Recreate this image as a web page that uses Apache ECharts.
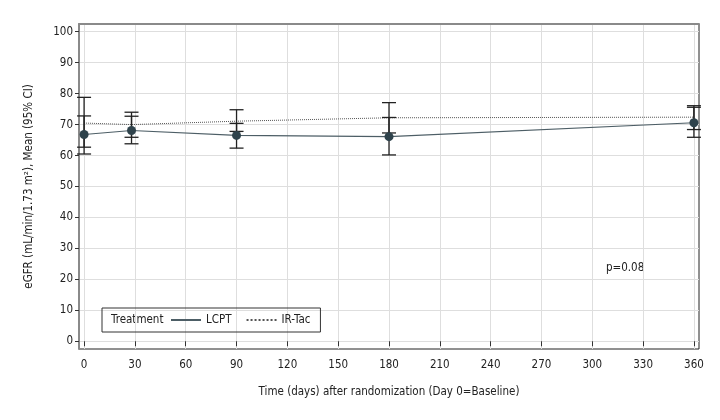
<!DOCTYPE html>
<html>
<head>
<meta charset="utf-8">
<script src="https://cdn.jsdelivr.net/npm/echarts@6/dist/echarts.min.js"></script>
<style>html,body{margin:0;padding:0;background:#fff}#c{width:720px;height:420px}</style>
</head>
<body>
<div id="c"></div>
<script>
var days = [0, 28, 90, 180, 360];
var lcptMean = [66.8, 68.1, 66.5, 66.1, 70.6];
var lcptLow = [60.5, 63.8, 62.4, 60.2, 65.9];
var lcptHigh = [72.8, 72.7, 70.4, 72.3, 75.6];
var irMean = [70.5, 70.0, 71.1, 72.2, 72.4];
var irLow = [62.7, 65.9, 67.8, 67.3, 68.4];
var irHigh = [78.8, 74.0, 74.8, 77.1, 76.1];
var xTicks = [0, 30, 60, 90, 120, 150, 180, 210, 240, 270, 300, 330, 360];
var yTicks = [0, 10, 20, 30, 40, 50, 60, 70, 80, 90, 100];
var FONT = '"Liberation Sans Narrow","DejaVu Sans Condensed",sans-serif';
var FS = 11.5;

var chart = echarts.init(document.getElementById('c'), null, {renderer: 'canvas'});

function pairs(xs, ys) { return xs.map(function (x, i) { return [x, ys[i]]; }); }
function errData(lo, hi) { return days.map(function (d, i) { return [d, lo[i], hi[i]]; }); }

function renderErr(params, api) {
  var x = api.value(0);
  var lo = api.coord([x, api.value(1)]);
  var hi = api.coord([x, api.value(2)]);
  var w = 7;
  var st = {stroke: '#222', lineWidth: 1.3};
  return {
    type: 'group',
    children: [
      {type: 'line', shape: {x1: lo[0], y1: lo[1], x2: hi[0], y2: hi[1]}, style: st},
      {type: 'line', shape: {x1: lo[0] - w, y1: lo[1], x2: lo[0] + w, y2: lo[1]}, style: st},
      {type: 'line', shape: {x1: hi[0] - w, y1: hi[1], x2: hi[0] + w, y2: hi[1]}, style: st}
    ]
  };
}

var option = {
  animation: false,
  textStyle: {fontFamily: FONT},
  grid: {left: 79, top: 24, right: 21, bottom: 71, show: true, borderColor: '#222', borderWidth: 1, backgroundColor: 'transparent'},
  xAxis: [{
    type: 'value', min: -3, max: 363,
    axisLine: {show: false},
    axisTick: {show: true, customValues: xTicks, length: 5, lineStyle: {color: '#333'}},
    axisLabel: {customValues: xTicks, color: '#222', fontSize: FS, fontFamily: FONT, margin: 10},
    splitLine: {show: true, lineStyle: {color: '#dedede', width: 1}},
    name: 'Time (days) after randomization (Day 0=Baseline)',
    nameLocation: 'middle', nameGap: 37,
    nameTextStyle: {color: '#222', fontSize: FS, fontFamily: FONT}
  }, {
    type: 'value', min: -3, max: 363, position: 'top',
    axisLine: {show: true, onZero: false, lineStyle: {color: '#8a8a8a', width: 2}},
    axisTick: {show: false}, axisLabel: {show: false}, splitLine: {show: false}
  }],
  yAxis: {
    type: 'value', min: -2.5, max: 102.5,
    axisLine: {show: true, onZero: false, lineStyle: {color: '#8a8a8a', width: 2}},
    axisTick: {show: true, customValues: yTicks, length: 4, lineStyle: {color: '#333'}},
    axisLabel: {customValues: yTicks, color: '#222', fontSize: FS, fontFamily: FONT, margin: 6},
    splitLine: {show: true, lineStyle: {color: '#dedede', width: 1}},
    name: 'eGFR (mL/min/1.73 m\u00b2), Mean (95% CI)',
    nameLocation: 'middle', nameGap: 44,
    nameTextStyle: {color: '#222', fontSize: FS, fontFamily: FONT}
  },
  legend: {
    left: 102, top: 308,
    padding: [6, 10, 6, 68],
    borderColor: '#333', borderWidth: 1,
    itemWidth: 30, itemHeight: 10, itemGap: 14,
    itemStyle: {color: 'rgba(0,0,0,0)', borderWidth: 0, opacity: 0},
    textStyle: {color: '#222', fontSize: FS, fontFamily: FONT},
    data: ['LCPT', 'IR-Tac']
  },
  graphic: [
    {type: 'text', left: 111, top: 314, style: {text: 'Treatment', font: FS + 'px ' + FONT, fill: '#222'}},
    {type: 'text', left: 606, top: 262, style: {text: 'p=0.08', font: FS + 'px ' + FONT, fill: '#222'}}
  ],
  series: [
    {
      name: 'IR-Tac', type: 'line', data: pairs(days, irMean), symbol: 'none',
      lineStyle: {color: '#555', width: 1, type: 'dotted'}, itemStyle: {color: '#555'}, z: 2
    },
    {
      name: 'LCPT', type: 'line', data: pairs(days, lcptMean), symbol: 'none',
      lineStyle: {color: '#4d5e66', width: 1.2}, itemStyle: {color: '#333'}, z: 3
    },
    {
      name: 'errIR', type: 'custom', data: errData(irLow, irHigh), renderItem: renderErr, z: 4
    },
    {
      name: 'errLCPT', type: 'custom', data: errData(lcptLow, lcptHigh), renderItem: renderErr, z: 4
    },
    {
      name: 'ptsLCPT', type: 'scatter', data: pairs(days, lcptMean), symbol: 'circle', symbolSize: 9,
      itemStyle: {color: '#2f434c', opacity: 1}, z: 5
    }
  ]
};
chart.setOption(option);
</script>
</body>
</html>
